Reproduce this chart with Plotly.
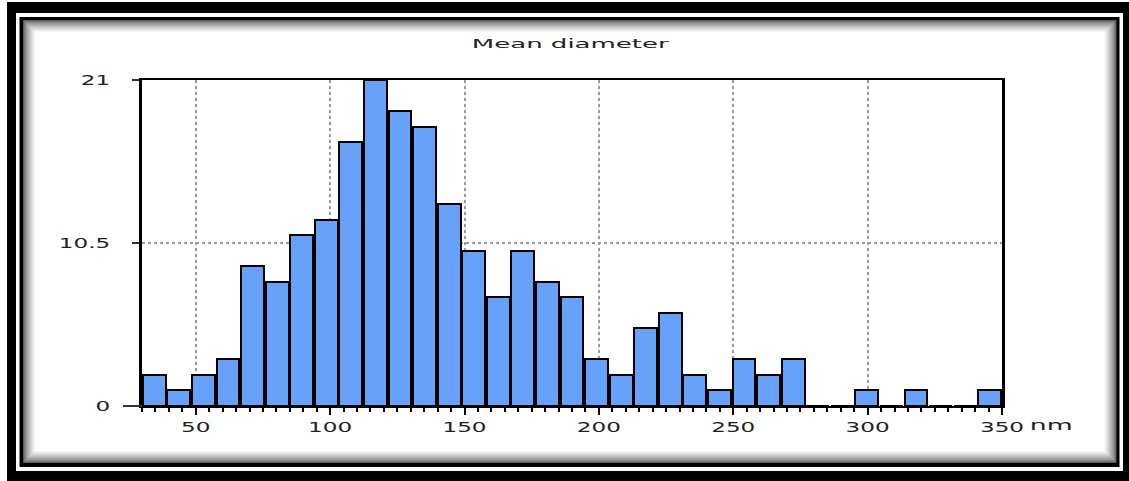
import plotly.graph_objects as go

# ---- data ----
bin_start = 30.0
bin_end = 350.0
counts = [2, 1, 2, 3, 9, 8, 11, 12, 17, 21, 19, 18, 13, 10, 7, 10, 8, 7,
          3, 2, 5, 6, 2, 1, 3, 2, 3, 0, 0, 1, 0, 1, 0, 0, 1]
x_tick_vals = [50, 100, 150, 200, 250, 300, 350]
x_tick_text = ["50", "100", "150", "200", "250", "300", "350"]
y_tick_vals = [0, 10.5, 21]
y_tick_text = ["0", "10.5", "21"]
title_text = "Mean diameter"
unit_text = "nm"

n_bins = len(counts)
bin_w = (bin_end - bin_start) / n_bins
centers = [bin_start + bin_w * (i + 0.5) for i in range(n_bins)]

W, H = 1129, 481
ML, MR, MT, MB = 142, W - 1002, 80, H - 406
PW, PH = W - ML - MR, H - MT - MB


def px(x):
    return (x - ML) / PW


def py(y):
    return (H - MB - y) / PH


fig = go.Figure()
fig.add_trace(go.Bar(
    x=centers, y=counts, width=bin_w * 0.93,
    marker=dict(color="#66A2FA", line=dict(color="black", width=2)),
    hoverinfo="skip",
))

shapes = []


def rect(x0, y0, x1, y1, color):
    shapes.append(dict(type="rect", xref="paper", yref="paper", layer="below",
                       x0=px(x0), x1=px(x1), y0=py(y0), y1=py(y1),
                       fillcolor=color, line=dict(width=0)))


rect(7, 2, 1129, 481, "black")
rect(16, 13, 1123, 471, "white")
rect(19.5, 17, 1119.5, 467, "black")
steps = 12
for i in range(steps + 1):
    t = i / steps
    v = int(90 + (255 - 90) * (t ** 0.7))
    rect(23 + i, 20 + i, 1116.5 - i, 463 - i, f"rgb({v},{v},{v})")
# leftward extension of the baseline at zero
shapes.append(dict(type="line", xref="paper", yref="paper",
                   x0=px(123), x1=px(142), y0=0, y1=0,
                   line=dict(color="#333", width=2)))

fig.update_layout(
    width=W, height=H, autosize=False,
    margin=dict(l=ML, r=MR, t=MT, b=MB, pad=0),
    paper_bgcolor="white", plot_bgcolor="rgba(0,0,0,0)",
    showlegend=False, bargap=0,
    font=dict(family="DejaVu Sans", size=14, color="#222"),
    shapes=shapes,
    annotations=[
        dict(text=title_text, xref="paper", yref="paper", x=px(570), y=py(44),
             xanchor="center", yanchor="middle", showarrow=False,
             font=dict(size=13, color="#222")),
        dict(text=unit_text, xref="paper", yref="paper", x=px(1038), y=py(425),
             xanchor="left", yanchor="middle", showarrow=False,
             font=dict(size=14, color="#222")),
    ],
)
fig.update_xaxes(
    range=[bin_start, bin_end], tickmode="array", tickvals=x_tick_vals, ticktext=x_tick_text,
    showline=True, linecolor="black", linewidth=2, mirror=True,
    ticks="outside", ticklen=7, tickwidth=2, tickcolor="black",
    minor=dict(tickmode="linear", tick0=0, dtick=5, ticks="outside", ticklen=4,
               tickwidth=2, tickcolor="black", showgrid=False),
    showgrid=True, gridcolor="#999", gridwidth=2, griddash="dot",
    zeroline=False, ticklabelstandoff=0,
)
fig.update_yaxes(
    range=[0, 21], tickmode="array", tickvals=y_tick_vals, ticktext=y_tick_text,
    showline=True, linecolor="black", linewidth=3, mirror=True,
    ticks="outside", ticklen=7, tickwidth=2, tickcolor="#333",
    showgrid=True, gridcolor="#999", gridwidth=1.5, griddash="dot",
    zeroline=False, ticklabelstandoff=19,
)

post = """
document.body.style.margin='0';
var gd = document.getElementById('{plot_id}');
function stretch(sel, f){
  gd.querySelectorAll(sel).forEach(function(t){
    var L = t.getComputedTextLength();
    var ff = f;
    if (t.textContent === 'nm') ff = 1.9;
    if (L > 0){ t.setAttribute('textLength', (L*ff).toFixed(1)); t.setAttribute('lengthAdjust','spacingAndGlyphs'); }
  });
}
stretch('.xtick text', 1.65);
stretch('.ytick text', 1.65);
stretch('.annotation-text', 2.0);
"""

fig.write_html("out.html", config={"displayModeBar": False}, post_script=post)
